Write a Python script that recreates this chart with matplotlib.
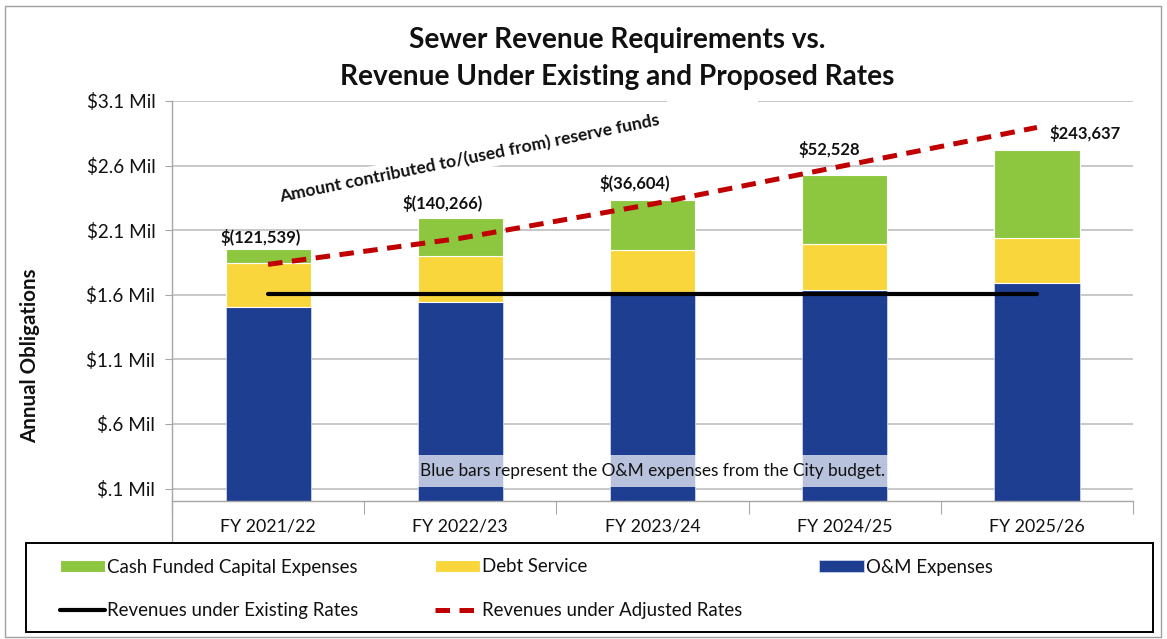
import matplotlib
matplotlib.use('Agg')
import matplotlib.pyplot as plt
from matplotlib.patches import Rectangle
import numpy as np

plt.rcParams['font.family'] = ['Lato', 'DejaVu Sans']

# values in $ millions
years = ['FY 2021/22', 'FY 2022/23', 'FY 2023/24', 'FY 2024/25', 'FY 2025/26']
om_expenses = [1.502, 1.546, 1.610, 1.639, 1.690]
debt_service = [0.347, 0.354, 0.334, 0.357, 0.353]
cash_capital = [0.103, 0.293, 0.388, 0.530, 0.680]
rev_existing = [1.603, 1.603, 1.603, 1.603, 1.603]
rev_adjusted = [1.835, 2.037, 2.302, 2.600, 2.895]
reserve_labels = ['$(121,539)', '$(140,266)', '$(36,604)', '$52,528', '$243,637']
y_ticks = [0.1, 0.6, 1.1, 1.6, 2.1, 2.6, 3.1]

green = '#8DC63F'
yellow = '#F9D73C'
blue = '#1E3E92'
red = '#C00000'
txt = '#111111'

fig = plt.figure(figsize=(11.67, 6.39), dpi=100)
ax = fig.add_axes([0.1474, 0.2153, 0.8235, 0.6267])

x = np.arange(len(years))
w = 0.443
b_om = ax.bar(x, om_expenses, w, color=blue, edgecolor='#c9d3ea', linewidth=0.6,
              label='O&M Expenses', zorder=2)
b_debt = ax.bar(x, debt_service, w, bottom=om_expenses, color=yellow, edgecolor='white',
                linewidth=0.8, label='Debt Service', zorder=2)
bottom3 = np.add(om_expenses, debt_service)
b_cap = ax.bar(x, cash_capital, w, bottom=bottom3, color=green, edgecolor='white',
               linewidth=0.8, label='Cash Funded Capital Expenses', zorder=2)
totals = bottom3 + np.array(cash_capital)

l_ex, = ax.plot(x, rev_existing, color='black', lw=3, solid_capstyle='round', zorder=3,
                label='Revenues under Existing Rates')
l_adj, = ax.plot(x, rev_adjusted, color=red, lw=3.6, dashes=(2.9, 1.9), zorder=3,
                 label='Revenues under Adjusted Rates')

# reserve fund labels
offsets = [(-5, 8.6), (-13, 10.8), (-13, 12.2), (-10.8, 18.7), (35, 11.5)]
for i, lab in enumerate(reserve_labels):
    ax.annotate(lab, xy=(x[i], totals[i]), xytext=offsets[i], textcoords='offset points',
                ha='center', va='center', fontsize=12, fontweight='bold', color=txt, zorder=4)

ax.text(1.045, 2.651, 'Amount contributed to/(used from) reserve funds', rotation=11.5,
        rotation_mode='anchor', ha='center', va='center', fontsize=12.6, fontweight='bold',
        color=txt, bbox=dict(fc='white', ec='none', pad=3), zorder=4)

ax.text(2.0, 0.236, 'Blue bars represent the O&M expenses from the City budget.',
        ha='center', va='center', fontsize=12.4, color=txt, zorder=4,
        bbox=dict(boxstyle='square,pad=0.45', fc='white', ec='none', alpha=0.69))

# axes
ax.set_xlim(-0.5, 4.5)
ax.set_ylim(0, 3.1)
ax.set_yticks(y_ticks)
ax.set_yticklabels(['$' + ('%.1f' % v).lstrip('0') + ' Mil' for v in y_ticks])
ax.yaxis.grid(True, color='#b9b9b9', lw=1.1)
ax.set_axisbelow(True)
ax.tick_params(axis='y', length=5, color='#a6a6a6', labelsize=13.6, pad=7, labelcolor=txt)

ax.set_xticks(np.arange(-0.5, 5, 1))
ax.set_xticklabels([])
ax.set_xticks(x, minor=True)
ax.set_xticklabels(years, minor=True)
ax.tick_params(axis='x', which='major', length=9, color='#a6a6a6')
ax.tick_params(axis='x', which='minor', length=0, labelsize=12.8, pad=12, labelcolor=txt)

for s in ['top', 'right']:
    ax.spines[s].set_visible(False)
for s in ['left', 'bottom']:
    ax.spines[s].set_color('#a6a6a6')
    ax.spines[s].set_linewidth(1)
ax.spines['left'].set_bounds(-0.31, 3.1)

# the title's white box hides a piece of the top gridline
fig.add_artist(Rectangle((667 / 1167, 1 - 104 / 639), 91 / 1167, 7 / 639,
                         transform=fig.transFigure, fc='white', ec='none', zorder=5))

fig.text(0.529, 1 - 58.5 / 639, 'Sewer Revenue Requirements vs.\nRevenue Under Existing and Proposed Rates',
         ha='center', va='center', fontsize=20.2, fontweight='bold', linespacing=1.5, color=txt)
fig.text(30 / 1167, 1 - 356 / 639, 'Annual Obligations', rotation=90, ha='center', va='center',
         fontsize=14.8, fontweight='bold', color=txt)

handles = [b_cap, l_ex, b_debt, l_adj, b_om]
fig.legend(handles, [h.get_label() for h in handles], loc='upper left',
           bbox_to_anchor=(60 / 1167, 1 - 558.5 / 639), borderaxespad=0, borderpad=0,
           ncol=3, frameon=False, fontsize=13.4, handlelength=2.42, handleheight=0.65,
           handletextpad=0.12, columnspacing=4.1, labelspacing=1.42, labelcolor=txt)

# legend frame and outer chart border
fig.add_artist(Rectangle((26 / 1167, 1 - 632 / 639), (1153 - 26) / 1167, (632 - 543) / 639,
                         transform=fig.transFigure, fill=False, ec='black', lw=1.4))
fig.add_artist(Rectangle((5 / 1167, 1 - 637 / 639), (1161 - 5) / 1167, (637 - 6) / 639,
                         transform=fig.transFigure, fill=False, ec='#a0a0a0', lw=1))

fig.savefig('out.png', dpi=100)
